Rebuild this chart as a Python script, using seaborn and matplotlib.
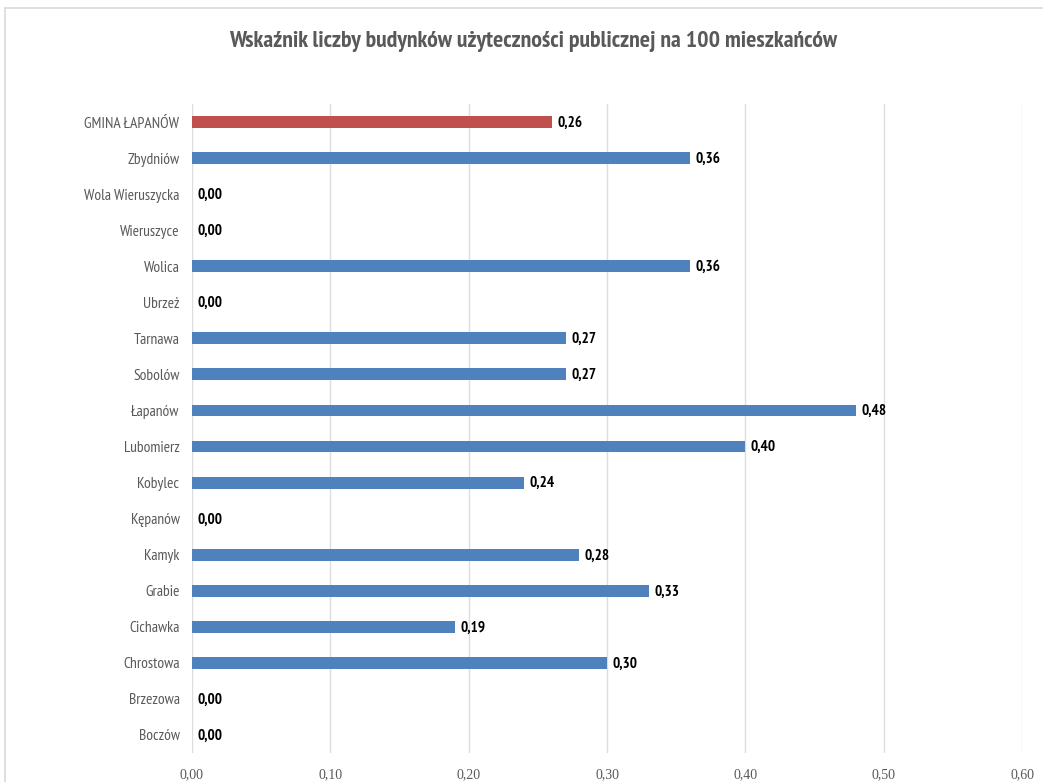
import matplotlib
matplotlib.use("Agg")
import matplotlib.pyplot as plt
import seaborn as sns
import pandas as pd
from matplotlib.patches import Rectangle

categories = ["GMINA ŁAPANÓW", "Zbydniów", "Wola Wieruszycka", "Wieruszyce", "Wolica",
              "Ubrzeż", "Tarnawa", "Sobolów", "Łapanów", "Lubomierz", "Kobylec",
              "Kępanów", "Kamyk", "Grabie", "Cichawka", "Chrostowa", "Brzezowa", "Boczów"]
values = [0.26, 0.36, 0.00, 0.00, 0.36, 0.00, 0.27, 0.27, 0.48, 0.40, 0.24,
          0.00, 0.28, 0.33, 0.19, 0.30, 0.00, 0.00]
groups = ["gmina"] + ["wies"] * (len(categories) - 1)
xticks = [0.0, 0.1, 0.2, 0.3, 0.4, 0.5, 0.6]

title = "Wskaźnik liczby budynków użyteczności publicznej na 100 mieszkańców"

sns.set_style("white")
narrow = ["PT Sans Narrow", "DejaVu Sans"]
plt.rcParams["font.family"] = narrow

df = pd.DataFrame({"kat": categories, "val": values, "grp": groups})

fig = plt.figure(figsize=(10.43, 7.82), dpi=100)
W, H = 1043, 782
ax = fig.add_axes([192 / W, 1 - 753 / H, (1022 - 192) / W, (753 - 104) / H])

# outer light frame
fig.patches.append(Rectangle((5 / W, -0.05), 1.2, 1 - 8 / H + 0.05, transform=fig.transFigure,
                             fill=False, edgecolor="#D9D9D9", linewidth=1.2))

sns.barplot(data=df, x="val", y="kat", hue="grp", orient="h", dodge=False,
            palette={"gmina": "#C0504D", "wies": "#4F81BD"}, width=0.33,
            legend=False, ax=ax, saturation=1, linewidth=0)

ax.set_xlim(0, 0.6)
ax.set_ylim(len(categories) - 0.5, -0.5)
ax.set_xticks(xticks)
ax.set_xticklabels([f"{t:.2f}".replace(".", ",") for t in xticks],
                   family=["Liberation Serif", "DejaVu Serif"], fontsize=10, color="#595959")
ax.tick_params(axis="x", length=0, pad=11)
ax.tick_params(axis="y", length=0, pad=9)
for lab in ax.get_yticklabels():
    lab.set_fontsize(11.2)
    lab.set_color("#595959")
ax.set_xlabel("")
ax.set_ylabel("")
ax.xaxis.grid(True, color="#DDDDDD", linewidth=1)
ax.set_axisbelow(True)
for s in ax.spines.values():
    s.set_visible(False)

for i, v in enumerate(values):
    ax.text(v + 0.004, i + 0.02, f"{v:.2f}".replace(".", ","), va="center", ha="left",
            fontsize=11, fontweight="bold", color="black")

fig.text(533 / W, 1 - 42 / H, title, ha="center", va="center", fontsize=17.2,
         fontweight="bold", color="#595959")

fig.savefig("out.png", dpi=100)
